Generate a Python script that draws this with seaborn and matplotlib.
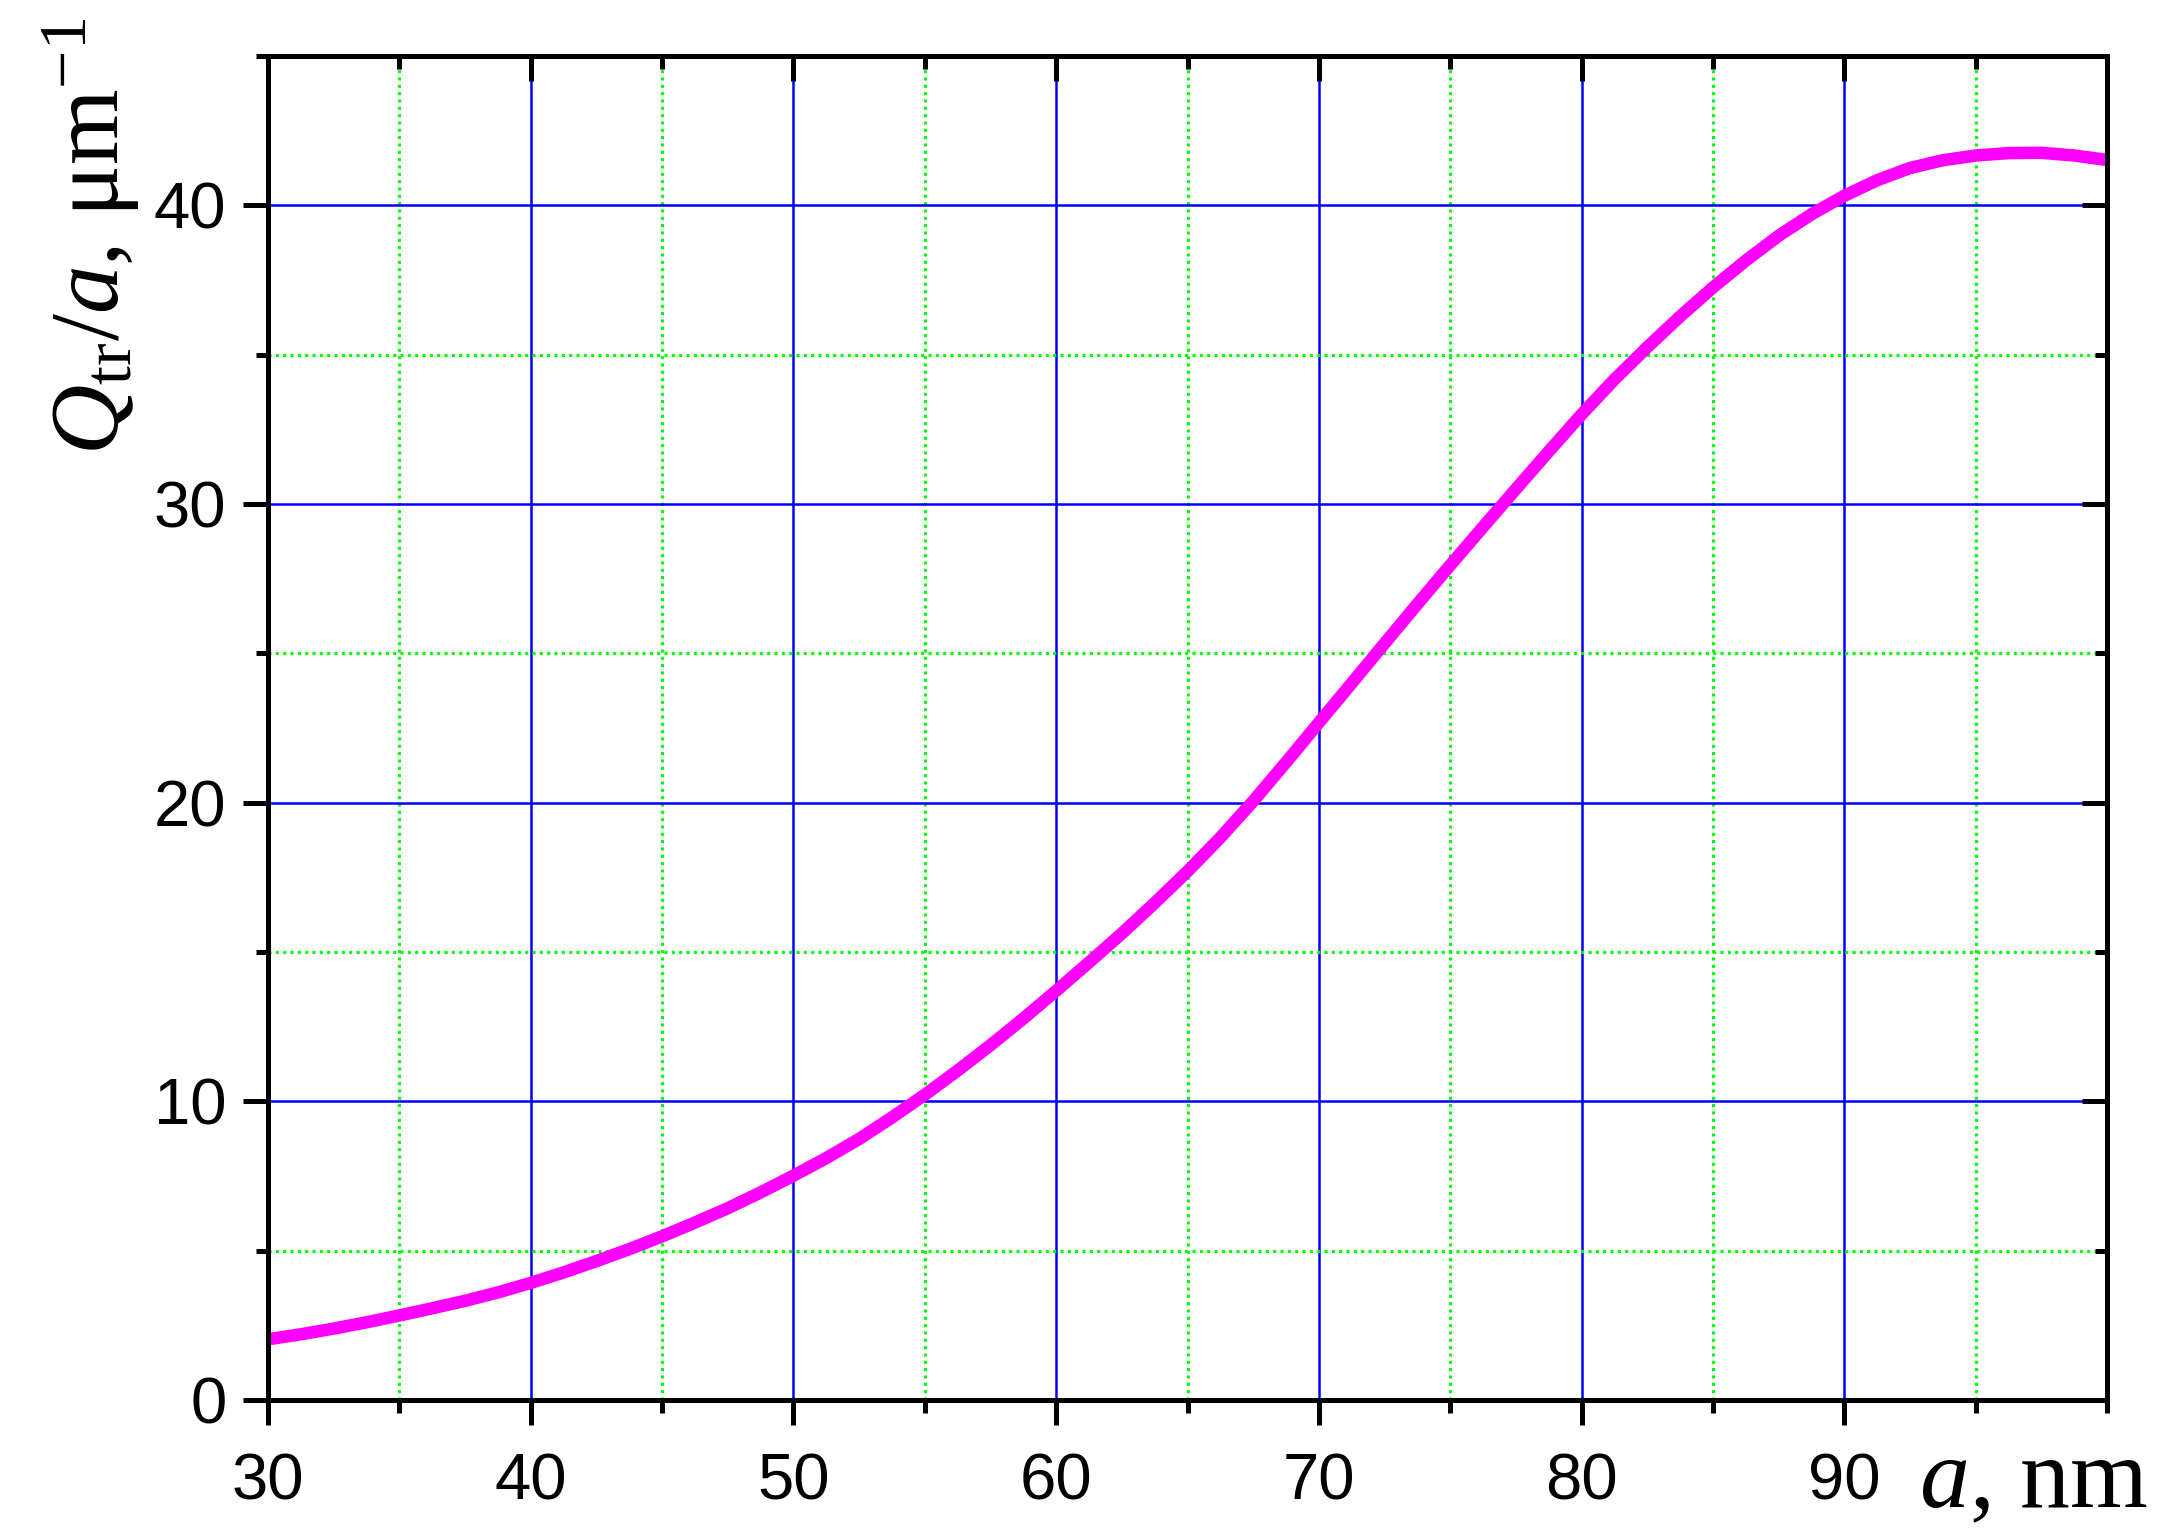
import matplotlib
matplotlib.use('Agg')
import matplotlib.pyplot as plt
import seaborn as sns
import pandas as pd
from matplotlib.ticker import MultipleLocator

# particle radius a (nm) and Q_tr/a (um^-1)
radius = [30, 31.25, 32.5, 33.75, 35, 36.25, 37.5, 38.75, 40, 41.25, 42.5, 43.75,
          45, 46.25, 47.5, 48.75, 50, 51.25, 52.5, 53.75, 55, 56.25, 57.5, 58.75,
          60, 61.25, 62.5, 63.75, 65, 66.25, 67.5, 68.75, 70, 71.25, 72.5, 73.75,
          75, 76.25, 77.5, 78.75, 80, 81.25, 82.5, 83.75, 85, 86.25, 87.5, 88.75,
          90, 91.25, 92.5, 93.75, 95, 96.25, 97.5, 98.75, 100]
q_tr = [2.03, 2.20, 2.39, 2.60, 2.83, 3.07, 3.32, 3.60, 3.92, 4.27, 4.65, 5.05,
        5.48, 5.94, 6.42, 6.95, 7.51, 8.10, 8.74, 9.46, 10.22, 11.03, 11.88, 12.77,
        13.70, 14.65, 15.62, 16.64, 17.70, 18.83, 20.05, 21.35, 22.68, 24.00, 25.33, 26.65,
        27.95, 29.23, 30.50, 31.76, 33.00, 34.17, 35.25, 36.28, 37.25, 38.15, 38.98, 39.70,
        40.32, 40.84, 41.25, 41.51, 41.67, 41.75, 41.76, 41.67, 41.52]

x_ticks = [30, 40, 50, 60, 70, 80, 90]
y_ticks = [0, 10, 20, 30, 40]

df = pd.DataFrame({'a': radius, 'q': q_tr})

sns.set_style('ticks')
plt.rcParams['font.family'] = ['Liberation Sans', 'DejaVu Sans']
plt.rcParams['mathtext.fontset'] = 'custom'
plt.rcParams['mathtext.rm'] = 'Liberation Serif'
plt.rcParams['mathtext.it'] = 'Liberation Serif:italic'
for k in ['text.color', 'axes.labelcolor', 'xtick.color', 'ytick.color', 'axes.edgecolor']:
    plt.rcParams[k] = 'black'

fig = plt.figure(figsize=(21.69, 15.31), dpi=100)
ax = fig.add_axes([0.1236, 0.0856, 0.8478, 0.8778])

sns.lineplot(data=df, x='a', y='q', color='#ff00ff', linewidth=9, ax=ax)

ax.set_xlim(30, 100)
ax.set_ylim(0, 45)
ax.set_xticks(x_ticks)
ax.set_yticks(y_ticks)
ax.xaxis.set_minor_locator(MultipleLocator(5))
ax.yaxis.set_minor_locator(MultipleLocator(5))

ax.grid(which='major', color='#0000ff', linewidth=1.8, linestyle='-')
ax.grid(which='minor', color='#00ff00', linewidth=2.2, linestyle=(0, (1, 1.4)))
ax.set_axisbelow(True)

for sp in ax.spines.values():
    sp.set_visible(True)
    sp.set_color('black')
    sp.set_linewidth(3.6)

ax.tick_params(axis='both', which='both', bottom=True, left=True, top=False, right=False)
ax.tick_params(axis='both', which='major', length=18, width=3.6, color='black',
               labelsize=47, labelcolor='black', direction='out')
ax.tick_params(axis='both', which='minor', length=9, width=3.6, color='black',
               direction='out')
ax.tick_params(axis='x', which='major', pad=20)
ax.tick_params(axis='y', which='major', pad=12)

# mirrored ticks on top / right pointing inward
axt = ax.twiny()
axt.set_xlim(ax.get_xlim())
axt.set_xticks(x_ticks)
axt.xaxis.set_minor_locator(MultipleLocator(5))
axt.tick_params(axis='x', which='both', top=True, bottom=False, labeltop=False,
                color='black', direction='in', width=3.6)
axt.tick_params(axis='x', which='major', length=18)
axt.tick_params(axis='x', which='minor', length=9)
axt.tick_params(axis='y', which='both', left=False, right=False, labelleft=False, labelright=False)
axt.grid(False)

axr = ax.twinx()
axr.set_ylim(ax.get_ylim())
axr.set_yticks(y_ticks)
axr.yaxis.set_minor_locator(MultipleLocator(5))
axr.tick_params(axis='y', which='both', right=True, left=False, labelright=False,
                color='black', direction='in', width=3.6)
axr.tick_params(axis='y', which='major', length=18)
axr.tick_params(axis='y', which='minor', length=9)
axr.tick_params(axis='x', which='both', top=False, bottom=False, labeltop=False, labelbottom=False)
axr.grid(False)
for a2 in (axt, axr):
    for sp in a2.spines.values():
        sp.set_linewidth(3.6)
        sp.set_color('black')

ax.set_xlabel(r'$a$, nm', fontsize=72, family='Liberation Serif')
ax.xaxis.label.set_va('baseline')
ax.xaxis.set_label_coords(0.96, -0.0796)

ax.set_ylabel(r'$Q_{\mathrm{tr}}/a$, μm$^{\mathrm{-1}}$', fontsize=70, family='Liberation Serif')
ax.yaxis.label.set_va('center')
ax.yaxis.set_label_coords(-0.097, 0.866)

fig.savefig('out.png', dpi=100, facecolor='white')
